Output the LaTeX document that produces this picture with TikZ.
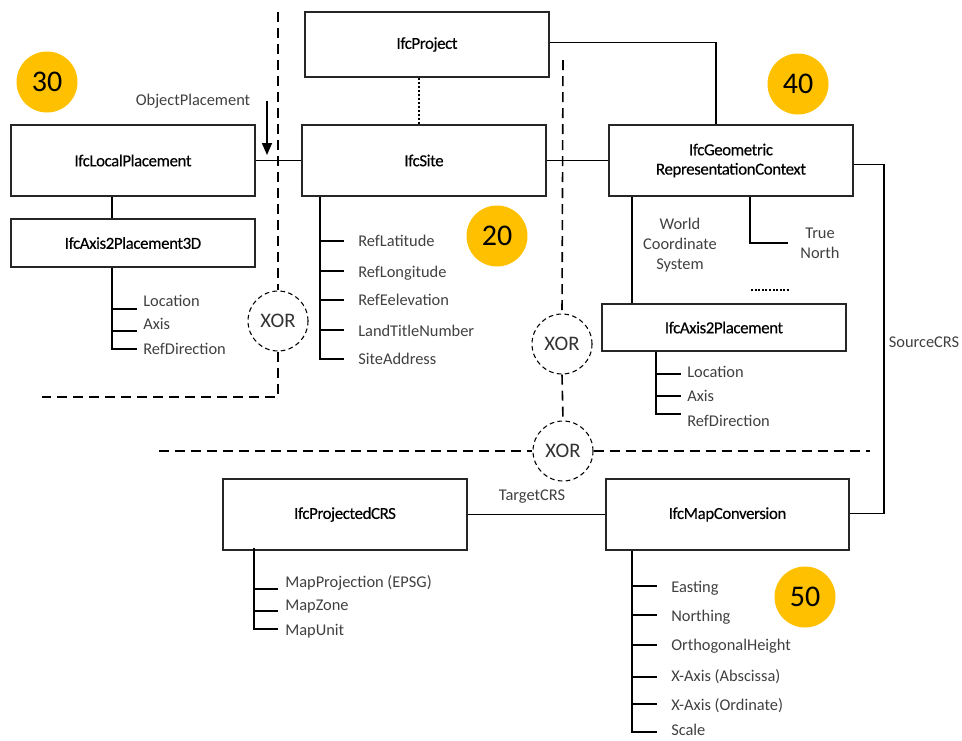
\documentclass[tikz,border=0pt]{standalone}
\usepackage{fontspec}
\setmainfont{Carlito}
\newfontfamily\boxfont[LetterSpace=-2.2,FakeBold=0.3]{Carlito}
\usetikzlibrary{calc,arrows.meta}
\definecolor{gold}{HTML}{FFC000}
\definecolor{attrgray}{HTML}{404040}
\begin{document}
\begin{tikzpicture}[x=0.75pt,y=-0.75pt,
 box/.style 2 args={draw=black!85, line width=1.05pt, inner sep=0pt, align=center,
   minimum width={#1*0.75pt}, minimum height={#2*0.75pt},
   font=\boxfont\fontsize{12.6}{14.5}\selectfont},
 conn/.style={line width=1.25pt},
 sepline/.style={line width=1.2pt, dash pattern=on 7.5pt off 4.5pt},
 dotline/.style={line width=1.4pt, dash pattern=on 1.5pt off 1.5pt},
 xorc/.style={circle, draw, line width=0.8pt, dash pattern=on 3.5pt off 2.5pt, minimum size=45pt, inner sep=0pt, text=black!80, font=\fontsize{15.5}{17}\selectfont},
 attr/.style={anchor=base west, inner sep=0pt, text=attrgray, font=\fontsize{12.3}{15}\selectfont},
 num/.style={circle, fill=gold, minimum size=45.75pt, inner sep=0pt, font=\fontsize{22.5}{26}\selectfont},
 lbl/.style={inner sep=0pt, text=attrgray, align=center, font=\fontsize{12.3}{15}\selectfont}]
\useasboundingbox (0,0) rectangle (962,740);

% boxes
\node[box={244}{65}] (proj) at (427,44.5) {IfcProject};
\node[box={244}{71}] (site) at (424,160.5) {IfcSite};
\node[box={244}{71}] (lp) at (133,160.5) {IfcLocalPlacement};
\node[box={244}{48}] (ax3) at (133,243) {IfcAxis2Placement3D};
\node[box={244}{71}] (geo) at (731,160.5) {IfcGeometric\\RepresentationContext};
\node[box={244}{47}] (ax2) at (724,327.5) {IfcAxis2Placement};
\node[box={244}{71}] (pcrs) at (345,514.5) {IfcProjectedCRS};
\node[box={243}{71}] (mc) at (727.5,514.5) {IfcMapConversion};

% number circles
\node[num] (n30) at (47,82) {30};
\node[num] (n40) at (798,84) {40};
\node[num] (n20) at (497,236) {20};
\node[num] (n50) at (805,597) {50};

% XOR circles
\node[xorc] (xorL) at (278,321) {XOR};
\node[xorc] (xorM) at (562,344) {XOR};
\node[xorc] (xorB) at (563,451) {XOR};

% separator lines
\coordinate (sL1) at (278,12);
\coordinate (sL2) at (278,397);
\coordinate (sL3) at (42,397);
\draw[sepline] (sL1) -- (xorL.north);
\draw[sepline] (xorL.south) -- (sL2) -- (sL3);
\coordinate (sM1) at (563,60);
\draw[sepline] (sM1) -- (xorM.north);
\draw[sepline] (xorM.south) -- (xorB.north);
\coordinate (sB1) at (159,451);
\coordinate (sB2) at (870,451);
\draw[sepline] (sB1) -- (xorB.west);
\draw[sepline] (xorB.east) -- (sB2);

% connectors
\draw[conn] (lp.east) -- (site.west);
\draw[conn] (site.east) -- (geo.west);
\draw[dotline] ($(proj.south west)+(115,0)$) -- ($(site.north west)+(118,0)$);
\draw[conn] ($(proj.east)+(0,-2)$) -| ($(geo.north west)+(108,0)$);
\draw[conn] ($(lp.south west)+(102,0)$) -- ($(ax3.north west)+(102,0)$);
\draw[conn] ($(geo.south west)+(24,0)$) -- ($(ax2.north west)+(31,0)$);
\coordinate (tn) at (788,243);
\draw[conn] ($(geo.south west)+(142,0)$) |- (tn);
\coordinate (dA) at (751,290);
\coordinate (dB) at (789,290);
\draw[line width=0.9pt, dash pattern=on 1.5pt off 1.2pt] (dA) -- (dB);
\coordinate (src) at (884,400);
\draw[conn] ($(geo.east)+(0,4)$) -| (src) |- ($(mc.east)+(0,-1)$);
\draw[conn] (pcrs.east) -- (mc.west);

% ObjectPlacement arrow
\node[lbl] (op) at (193,101) {ObjectPlacement};
\coordinate (opA) at (267,101);
\coordinate (opB) at (267,155);
\draw[line width=1.2pt, -{Triangle[length=9pt,width=7.5pt]}] (opA) -- (opB);

% edge labels
\node[lbl] (wcs) at (680,245) {World\\Coordinate\\System};
\node[lbl] (tnl) at (820,243) {True\\North};
\node[lbl] (srcl) at (924,342) {SourceCRS};
\node[lbl] (tgtl) at (532,497) {TargetCRS};

% IfcAxis2Placement3D attributes
\draw[conn] ($(ax3.south west)+(102,0)$) |- (137,349);
\draw[conn] (113,309) -- (137,309);
\draw[conn] (113,331) -- (137,331);
\node[attr] (a3l) at (143,306) {Location};
\node[attr] (a3a) at (143,329) {Axis};
\node[attr] (a3r) at (143,354) {RefDirection};

% IfcSite attributes
\draw[conn] ($(site.south west)+(19,0)$) |- (344,359);
\foreach \yy in {241,271,300,330} \draw[conn] (321,\yy) -- (344,\yy);
\node[attr] (s1) at (358,246) {RefLatitude};
\node[attr] (s2) at (358,277) {RefLongitude};
\node[attr] (s3) at (358,305) {RefEelevation};
\node[attr] (s4) at (358,336) {LandTitleNumber};
\node[attr] (s5) at (358,364) {SiteAddress};

% IfcAxis2Placement attributes
\draw[conn] ($(ax2.south west)+(55,0)$) |- (681,414);
\draw[conn] (657,374) -- (681,374);
\draw[conn] (657,396) -- (681,396);
\node[attr] (b1) at (687,377) {Location};
\node[attr] (b2) at (687,401) {Axis};
\node[attr] (b3) at (687,426) {RefDirection};

% IfcProjectedCRS attributes
\draw[conn] ($(pcrs.south west)+(32,-3)$) |- (278,629);
\draw[conn] (255,589) -- (278,589);
\draw[conn] (255,611) -- (278,611);
\node[attr] (p1) at (285,587) {MapProjection (EPSG)};
\node[attr] (p2) at (285,610) {MapZone};
\node[attr] (p3) at (285,635) {MapUnit};

% IfcMapConversion attributes
\draw[conn] ($(mc.south west)+(27,0)$) |- (657,732);
\foreach \yy in {586,615,645,677,704} \draw[conn] (633,\yy) -- (657,\yy);
\node[attr] (m1) at (671,592) {Easting};
\node[attr] (m2) at (671,621) {Northing};
\node[attr] (m3) at (671,650) {OrthogonalHeight};
\node[attr] (m4) at (671,681) {X-Axis (Abscissa)};
\node[attr] (m5) at (671,710) {X-Axis (Ordinate)};
\node[attr] (m6) at (671,735) {Scale};
\end{tikzpicture}
\end{document}
